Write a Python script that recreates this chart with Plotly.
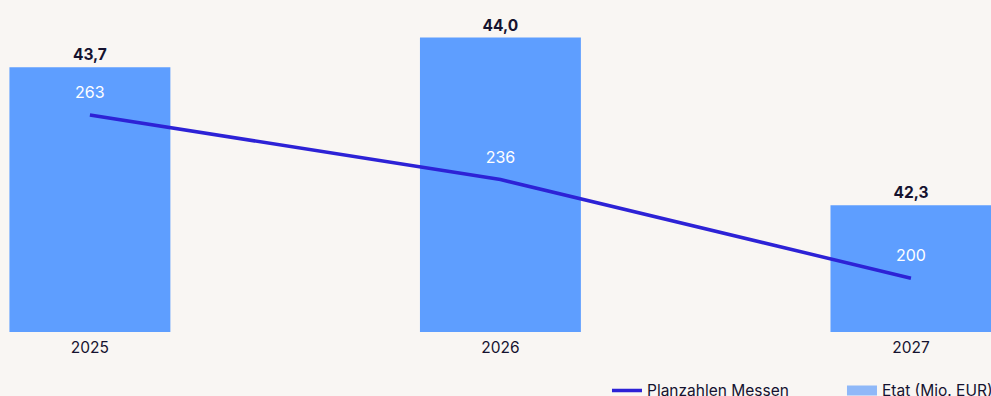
import plotly.graph_objects as go

years = ["2025", "2026", "2027"]
etat = [43.7, 44.0, 42.3]
etat_labels = ["43,7", "44,0", "42,3"]
planzahlen = [263, 236, 200]

BG = "#f9f6f3"
BAR = "#5e9eff"
LINE = "#2d22d6"
DARK = "#15122f"
FONT = "Inter"

fig = go.Figure()

fig.add_trace(go.Bar(
    x=years, y=etat, name="Etat (Mio. EUR)",
    marker=dict(color=BAR, line=dict(width=0)),
    width=0.392,
    text=etat_labels, textposition="outside", cliponaxis=False,
    textfont=dict(family=FONT, size=15.5, color=DARK, weight="bold"),
    showlegend=False, hoverinfo="skip",
))

fig.add_trace(go.Scatter(
    x=years, y=planzahlen, name="Planzahlen Messen", yaxis="y2",
    mode="lines+text",
    text=[f"{v}<br> <br> " for v in planzahlen],
    textposition="middle center",
    textfont=dict(family=FONT, size=16, color="white"),
    line=dict(color=LINE, width=3.5),
    cliponaxis=False, hoverinfo="skip",
))

# legend entry for bars (wide swatch)
fig.add_trace(go.Scatter(
    x=[None], y=[None], name="Etat (Mio. EUR)", mode="lines",
    line=dict(color="#8fb8f8", width=13), yaxis="y2",
))

fig.update_layout(
    width=991, height=396,
    paper_bgcolor=BG, plot_bgcolor=BG,
    margin=dict(l=0, r=0, t=10, b=64, autoexpand=False),
    font=dict(family=FONT, size=15.5, color=DARK),
    xaxis=dict(type="category", range=[-0.219, 2.195], showgrid=False,
               zeroline=False, showline=False, ticks="",
               ticklabelstandoff=4,
               tickfont=dict(family=FONT, size=15.5, color=DARK)),
    yaxis=dict(range=[41.015, 44.28], visible=False, showgrid=False),
    yaxis2=dict(type="log", range=[2.2618, 2.4965], overlaying="y",
                visible=False, showgrid=False),
    legend=dict(orientation="h", x=0.6125, xanchor="left", y=-0.13,
                yanchor="top", bgcolor="rgba(0,0,0,0)",
                entrywidth=190, entrywidthmode="pixels",
                font=dict(family=FONT, size=15.5, color=DARK),
                traceorder="normal"),
    showlegend=True,
)

fig.write_html("out.html",
               config={"displayModeBar": False},
               post_script="document.body.style.margin='0';document.body.style.overflow='hidden';document.body.style.background='#f9f6f3';")
